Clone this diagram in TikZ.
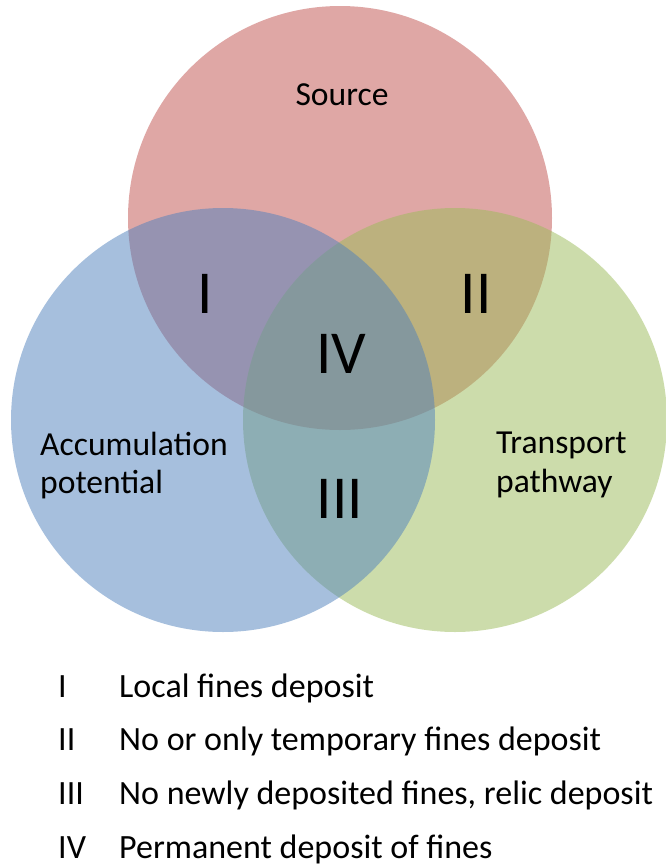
\documentclass[tikz,border=0pt]{standalone}
\usepackage{fontspec}
\setmainfont{Carlito}
\begin{document}
\begin{tikzpicture}[x=1pt,y=-1pt,
  setc/.style={circle, inner sep=0pt, minimum size=424pt, fill opacity=0.5, draw=none},
  lbl/.style={font=\fontsize{33.6}{40}\selectfont, inner sep=0pt, text=black},
  rom/.style={font=\fontsize{61}{70}\selectfont, inner sep=0pt, text=black, anchor=base},
  leg/.style={font=\fontsize{34}{40}\selectfont, inner sep=0pt, text=black, anchor=base west}]
\definecolor{cred}{HTML}{C0504D}
\definecolor{cblue}{HTML}{4F81BD}
\definecolor{cgreen}{HTML}{9BBB59}
\useasboundingbox (0,0) rectangle (665,868);
\fill[white] (0,0) rectangle (665,868);
\node[setc, fill=cred] (src) at (340,218) {};
\node[setc, fill=cgreen] (trn) at (455,420) {};
\node[setc, fill=cblue] (acc) at (223,420) {};
\node[lbl, anchor=base] (tsrc) at (342,105) {Source};
\node[lbl, anchor=base west] (tacc1) at (40,455) {Accumulation};
\node[lbl, anchor=base west] (tacc2) at (40,493) {potential};
\node[lbl, anchor=base west] (ttrn1) at (496,453) {Transport};
\node[lbl, anchor=base west] (ttrn2) at (496,492) {pathway};
\node[rom] (r1) at (205,313) {I};
\node[rom] (r2) at (476,313) {II};
\node[rom] (r4) at (341,373) {IV};
\node[rom] (r3) at (340,518) {III};
\node[leg] (l1n) at (58,697) {I};
\node[leg] (l1t) at (119,697) {Local fines deposit};
\node[leg] (l2n) at (58,750) {II};
\node[leg] (l2t) at (119,750) {No or only temporary fines deposit};
\node[leg] (l3n) at (58,804) {III};
\node[leg] (l3t) at (119,804) {No newly deposited fines, relic deposit};
\node[leg] (l4n) at (58,858) {IV};
\node[leg] (l4t) at (119,858) {Permanent deposit of fines};
\end{tikzpicture}
\end{document}
